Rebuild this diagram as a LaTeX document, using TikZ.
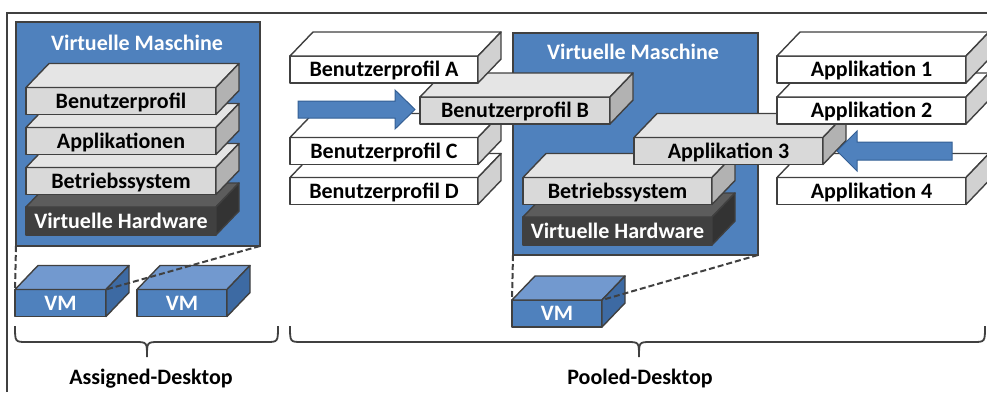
\documentclass[tikz,border=0pt]{standalone}
\usepackage{fontspec}
\setmainfont{Carlito}
\usetikzlibrary{positioning}

\definecolor{linegray}{HTML}{404040}
\definecolor{vmblue}{HTML}{4F81BD}
\definecolor{vmbluetop}{HTML}{7299CF}
\definecolor{vmblueside}{HTML}{3D6AA3}
\definecolor{arrowline}{HTML}{345F94}

% one layer: front face as node, top and side faces from its corners
\newcommand\slab[6]{%
  \node[#2] (#1) at (#3,#4) [minimum width=#5] {#6};
  \draw[#2 top] (#1.north west) -- ([shift={(23,-24)}]#1.north west)
    -- ([shift={(23,-24)}]#1.north east) -- (#1.north east) -- cycle;
  \draw[#2 side] (#1.north east) -- ([shift={(23,-24)}]#1.north east)
    -- ([shift={(23,-24)}]#1.south east) -- (#1.south east) -- cycle;
}

\begin{document}
\begin{tikzpicture}[
  x=1pt, y=-1pt,
  every node/.style = {font=\fontsize{22}{24}\selectfont\bfseries},
  face/.style    = {draw=linegray, line width=1.4pt, line join=round},
  layer/.style   = {face, outer sep=0pt, inner sep=0pt, minimum height=27,
                    text height=14pt, text depth=0pt},
  grey/.style        = {layer, fill=black!15},
  grey top/.style    = {face, fill=black!10},
  grey side/.style   = {face, fill=black!30},
  white/.style       = {layer, fill=white},
  white top/.style   = {face, fill=white},
  white side/.style  = {face, fill=black!18},
  dark/.style        = {layer, fill=black!75, text=white, minimum height=28},
  dark top/.style    = {face, fill=black!64},
  dark side/.style   = {face, fill=black!80},
  vm/.style          = {layer, fill=vmblue, text=white},
  vm top/.style      = {face, fill=vmbluetop},
  vm side/.style     = {face, fill=vmblueside},
  vmbox/.style   = {draw=linegray, line width=2.8pt, fill=vmblue, outer sep=0pt},
  vmtitle/.style = {text=white},
  link/.style    = {draw=linegray, line width=2pt, dash pattern=on 6pt off 3pt},
  brace/.style   = {draw=linegray, line width=1.8pt},
  blockarrow/.style = {fill=vmblue, draw=arrowline, line width=1pt, line join=miter},
]
\useasboundingbox (0,0) rectangle (987,392);
\clip (0,0) rectangle (987,392);

% frame
\draw[linegray, line width=1.2pt] (7,392) -- (7,13) -- (987,13);

% assigned desktop
\node[vmbox, minimum width=244, minimum height=224] (vmL) at (138,134) {};
\node[vmtitle] (titleL) at (137,43) {Virtuelle Maschine};
\slab{hwL}{dark}{121}{221}{190}{Virtuelle Hardware}
\slab{osL}{grey}{121}{181}{190}{Betriebssystem}
\slab{appL}{grey}{121}{141}{190}{Applikationen}
\slab{profL}{grey}{121}{101}{190}{Benutzerprofil}

\slab{vm1}{vm}{60.5}{303}{91}{VM}
\slab{vm2}{vm}{182}{303}{90}{VM}
\draw[link] (vmL.south west) -- (vm1.north west);
\draw[link] (vmL.south east) -- (vm1.north east);

% pooled desktop
\node[vmbox, minimum width=245, minimum height=222] (vmP) at (635.5,144) {};
\node[vmtitle] (titleP) at (633,52) {Virtuelle Maschine};
\slab{hwP}{dark}{617.5}{231}{189}{Virtuelle Hardware}
\slab{osP}{grey}{617.5}{191}{189}{Betriebssystem}

\slab{profD}{white}{384}{191}{188}{Benutzerprofil D}
\slab{profC}{white}{384}{151}{188}{Benutzerprofil C}
\slab{profB}{grey}{515}{110.5}{190}{Benutzerprofil B}
\slab{profA}{white}{384}{69.5}{188}{Benutzerprofil A}

\slab{app4}{white}{871.5}{191}{189}{Applikation 4}
\slab{app3}{grey}{728.5}{151}{189}{Applikation 3}
\slab{app2}{white}{871.5}{110.5}{189}{Applikation 2}
\slab{app1}{white}{871.5}{69.5}{189}{Applikation 1}

\slab{vm3}{vm}{557}{313.5}{90}{VM}
\draw[link] (vmP.south west) -- (vm3.north west);
\draw[link] (vmP.south east) -- (vm3.north east);

% block arrows
\draw[blockarrow] (298,101) -- (395,101) -- (395,90) -- (415,109.5)
  -- (395,129) -- (395,118) -- (298,118) -- cycle;
\draw[blockarrow] (952,142) -- (857,142) -- (857,131) -- (837,151)
  -- (857,171) -- (857,160) -- (952,160) -- cycle;

% braces
\draw[brace] (15,326) .. controls (15,342) .. (27,342) -- (135,342)
  .. controls (147,342) .. (147,357) .. controls (147,342) .. (159,342)
  -- (266,342) .. controls (278,342) .. (278,326);
\draw[brace] (290,326) .. controls (290,342) .. (302,342) -- (627,342)
  .. controls (639,342) .. (639,357) .. controls (639,342) .. (651,342)
  -- (973,342) .. controls (985,342) .. (985,326);
\node (assigned) at (151,379) {Assigned-Desktop};
\node (pooled) at (640,379) {Pooled-Desktop};
\end{tikzpicture}
\end{document}
